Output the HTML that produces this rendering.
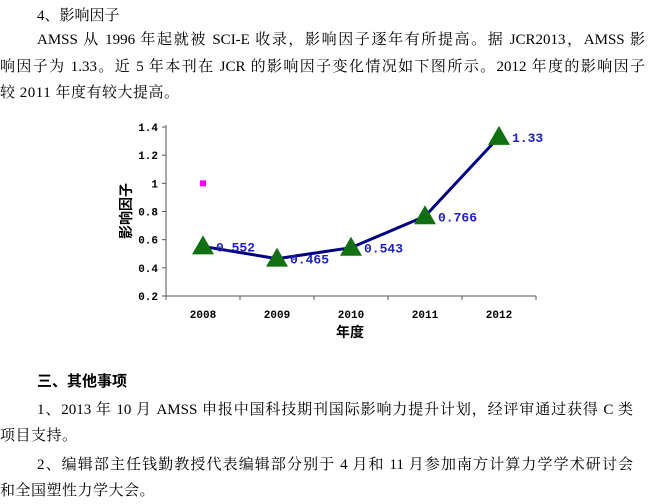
<!DOCTYPE html>
<html><head><meta charset="utf-8"><style>
body{margin:0;width:649px;height:504px;background:#fff;position:relative;overflow:hidden;font-family:"Liberation Serif","Noto Serif CJK SC",serif;color:#000}
.t{position:absolute;font-size:15px;white-space:nowrap;line-height:20px}
.j{white-space:normal;text-align:justify;text-align-last:justify;overflow:hidden;height:20px}
svg{position:absolute;left:0;top:0}
</style></head><body>
<div class="t" style="left:37px;top:6px">4、影响因子</div>
<div class="t j" style="left:37px;top:30px;width:608px">AMSS 从 1996 年起就被 SCI-E 收录，影响因子逐年有所提高。据 JCR2013，AMSS 影</div>
<div class="t j" style="left:0px;top:57px;width:645px">响因子为 1.33。近 5 年本刊在 JCR 的影响因子变化情况如下图所示。2012 年度的影响因子</div>
<div class="t" style="left:0px;top:83px;letter-spacing:0.5px">较 2011 年度有较大提高。</div>

<svg width="649" height="504">
<g id="axes"></g><g id="marks"></g>
</svg>

<div class="t" style="left:37px;top:372px;font-weight:bold;font-family:'Liberation Sans','Noto Sans CJK SC',sans-serif">三、其他事项</div>
<div class="t j" style="left:37px;top:400px;width:596px">1、2013 年 10 月 AMSS 申报中国科技期刊国际影响力提升计划，经评审通过获得 C 类</div>
<div class="t" style="left:0px;top:426px;letter-spacing:0.5px">项目支持。</div>
<div class="t j" style="left:37px;top:455px;width:596px">2、编辑部主任钱勤教授代表编辑部分别于 4 月和 11 月参加南方计算力学学术研讨会</div>
<div class="t" style="left:0px;top:481px;letter-spacing:0.5px">和全国塑性力学大会。</div>

<script>
const categories=["2008","2009","2010","2011","2012"];
const values=[0.552,0.465,0.543,0.766,1.33];
const valueLabels=["0.552","0.465","0.543","0.766","1.33"];
const yTicks=[0.2,0.4,0.6,0.8,1,1.2,1.4];
const yTickLabels=["0.2","0.4","0.6","0.8","1","1.2","1.4"];
const pinkPoint=[0,1.0];
const NS="http://www.w3.org/2000/svg";
const L=166,R=536,T=127,B=296,ymin=0.2,ymax=1.4;
const bw=(R-L)/categories.length;
const x=i=>L+bw*(i+0.5);
const y=v=>B-(v-ymin)/(ymax-ymin)*(B-T);
const ax=document.getElementById('axes'),mk=document.getElementById('marks');
function el(p,tag,a,txt){const e=document.createElementNS(NS,tag);for(const k in a)e.setAttribute(k,a[k]);if(txt!=null)e.textContent=txt;p.appendChild(e);return e;}
let e=el(ax,'line',{x1:L,y1:T-2,x2:L,y2:B,stroke:'#555','stroke-width':1});


e=el(ax,'line',{x1:L,y1:B,x2:R,y2:B,stroke:'#555','stroke-width':1});


yTicks.forEach((v,i)=>{
 el(ax,'line',{x1:L-4,y1:y(v),x2:L,y2:y(v),stroke:'#555'});
 const t=el(ax,'text',{x:L-8,y:y(v)+4,'text-anchor':'end','font-size':11,'font-family':'Liberation Mono,monospace','font-weight':'bold'},yTickLabels[i]);
 
 
});
for(let i=0;i<=categories.length;i++)el(ax,'line',{x1:L+bw*i,y1:B,x2:L+bw*i,y2:B+4,stroke:'#555'});
categories.forEach((c,i)=>{
 const t=el(ax,'text',{x:x(i),y:B+22,'text-anchor':'middle','font-size':11,'font-family':'Liberation Mono,monospace','font-weight':'bold'},c);
 
 
});
e=el(ax,'text',{x:350,y:337,'text-anchor':'middle','font-size':14,'font-weight':'bold','font-family':'Noto Sans CJK SC,sans-serif'},'年度');


e=el(ax,'text',{x:0,y:0,'text-anchor':'middle','font-size':14,'font-weight':'bold','font-family':'Noto Sans CJK SC,sans-serif',transform:'translate(131,211) rotate(-90)'},'影响因子');


e=el(mk,'polyline',{points:values.map((v,i)=>x(i)+','+y(v)).join(' '),fill:'none',stroke:'#000080','stroke-width':3});


values.forEach((v,i)=>{
 const cx=x(i),cy=y(v);
 const p=el(mk,'polygon',{points:`${cx},${cy-11} ${cx-11},${cy+8} ${cx+11},${cy+8}`,fill:'#127012'});
 
 
 const t=el(mk,'text',{x:cx+13,y:cy+5,'font-size':13,'font-weight':'bold','font-family':'Liberation Mono,monospace',fill:'#2020c0'},valueLabels[i]);
 
 
});
e=el(mk,'rect',{x:x(pinkPoint[0])-3,y:y(pinkPoint[1])-3,width:6,height:6,fill:'#ff00ff'});


</script>
</body></html>
